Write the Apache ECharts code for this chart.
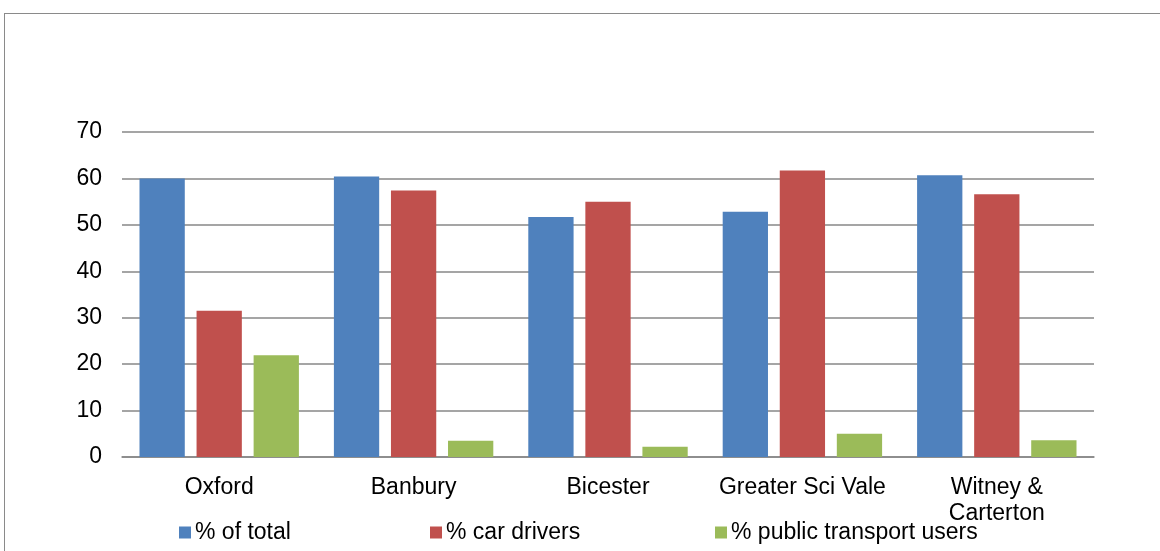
<!DOCTYPE html>
<html>
<head>
<meta charset="utf-8">
<script src="https://cdn.jsdelivr.net/npm/echarts@6/dist/echarts.min.js"></script>
<style>
html,body{margin:0;padding:0;background:#fff;}
#chart{position:absolute;left:0;top:0;width:1160px;height:551px;}
#frame{position:absolute;left:4px;top:13px;width:1200px;height:600px;border:1.5px solid #8a8a8a;pointer-events:none;}
</style>
</head>
<body>
<div id="chart"></div>
<div id="frame"></div>
<script>
var categories = ['Oxford', 'Banbury', 'Bicester', 'Greater Sci Vale', 'Witney &\nCarterton'];
var seriesNames = ['% of total', '% car drivers', '% public transport users'];
var pctTotal = [60.0, 60.4, 51.7, 52.8, 60.7];
var pctCarDrivers = [31.5, 57.4, 55.0, 61.7, 56.6];
var pctPublicTransport = [21.9, 3.5, 2.2, 5.0, 3.6];
var yTicks = [0, 10, 20, 30, 40, 50, 60, 70];

var colors = ['#4F81BD', '#C0504D', '#9BBB59'];
var font = 'Liberation Sans, Arial, sans-serif';
var fs = 23;

var chart = echarts.init(document.getElementById('chart'), null, {renderer: 'canvas'});

function legendAt(name, left) {
  return {
    data: [name],
    left: left,
    top: 521,
    itemWidth: 12,
    itemHeight: 12,
    icon: 'rect',
    itemGap: 0,
    padding: 0,
    textStyle: {fontFamily: font, fontSize: fs, color: '#000', padding: [0, 0, 0, -1]}
  };
}

var series = [pctTotal, pctCarDrivers, pctPublicTransport].map(function (d, i) {
  return {
    name: seriesNames[i],
    type: 'bar',
    data: d,
    barGap: '26%',
    barCategoryGap: '18%',
    itemStyle: {color: colors[i]},
    animation: false
  };
});

chart.setOption({
  animation: false,
  color: colors,
  legend: [legendAt(seriesNames[0], 179), legendAt(seriesNames[1], 430), legendAt(seriesNames[2], 715)],
  grid: {left: 122, right: 66, top: 132, bottom: 94, containLabel: false},
  xAxis: {
    type: 'category',
    data: categories,
    axisLine: {show: true, lineStyle: {color: '#878787', width: 1.5}},
    axisTick: {show: false},
    axisLabel: {fontFamily: font, fontSize: fs, color: '#000', margin: 18, lineHeight: 26, interval: 0}
  },
  yAxis: {
    type: 'value',
    min: yTicks[0],
    max: yTicks[yTicks.length - 1],
    interval: 10,
    axisLine: {show: false},
    axisTick: {show: false},
    splitLine: {show: true, lineStyle: {color: '#878787', width: 1.5}},
    axisLabel: {fontFamily: font, fontSize: fs, color: '#000', margin: 20}
  },
  series: series
});
</script>
</body>
</html>
